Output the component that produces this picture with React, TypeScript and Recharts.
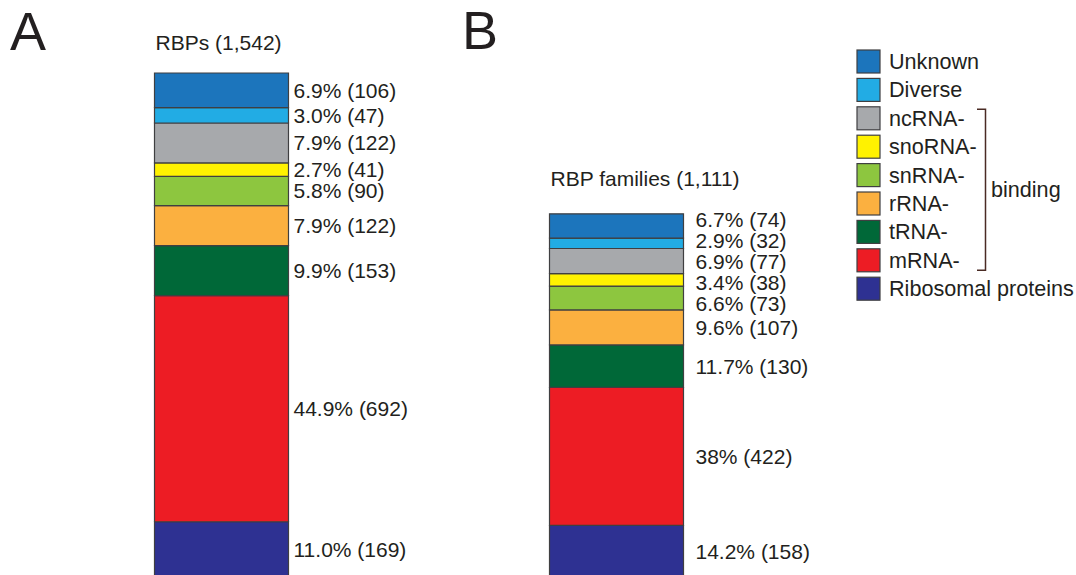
import { Bar, BarChart, LabelList, XAxis, YAxis } from "recharts";

const categories = ["RBPs (1,542)", "RBP families (1,111)"];
const panelLetters = ["A", "B"];

// legend order = top of the stack first
const seriesNames = [
  "Unknown",
  "Diverse",
  "ncRNA-",
  "snoRNA-",
  "snRNA-",
  "rRNA-",
  "tRNA-",
  "mRNA-",
  "Ribosomal proteins",
];
const seriesColors = [
  "#1c75bc",
  "#22ace4",
  "#a7a9ac",
  "#fff200",
  "#8dc63f",
  "#fbb040",
  "#006838",
  "#ed1c24",
  "#2e3192",
];
// ncRNA- .. mRNA- share the "binding" bracket
const bindingFirst = 2;
const bindingLast = 7;

const countsRBPs = [106, 47, 122, 41, 90, 122, 153, 692, 169];
const countsFamilies = [74, 32, 77, 38, 73, 107, 130, 422, 158];
const pctRBPs = ["6.9%", "3.0%", "7.9%", "2.7%", "5.8%", "7.9%", "9.9%", "44.9%", "11.0%"];
const pctFamilies = ["6.7%", "2.9%", "6.9%", "3.4%", "6.6%", "9.6%", "11.7%", "38%", "14.2%"];

const counts = [countsRBPs, countsFamilies];
const pcts = [pctRBPs, pctFamilies];

const rows = categories.map((name, c) => {
  const row: Record<string, string | number> = { name };
  counts[c].forEach((v, i) => {
    row[`s${i}`] = v;
  });
  return row;
});

// layout
const W = 1076;
const H = 575;
const CHART_H = 580;
const MARGIN = { top: 73, bottom: 3, left: 23.5, right: 262.5 };
const BAR_SIZE = 134;
const Y_MAX = 1542;
const LABEL_GAP = [5, 12];
const TITLE_GAP = [31, 35];
const MIN_LABEL_GAP = 21;
const FONT = '"Liberation Sans", Arial, Helvetica, sans-serif';
const INK = "#231f20";
const EDGE = "#3f3f41";

// push segment labels apart so they don't collide (offsets in px)
const PX = (CHART_H - MARGIN.top - MARGIN.bottom) / Y_MAX;
function labelOffsets(values: number[]) {
  const total = values.reduce((a, b) => a + b, 0);
  let above = 0;
  const natural = values.map((v) => {
    const c = (Y_MAX - total + above + v / 2) * PX;
    above += v;
    return c;
  });
  const pos = [...natural];
  for (let it = 0; it < 300; it++) {
    for (let i = 1; i < pos.length; i++) {
      const d = MIN_LABEL_GAP - (pos[i] - pos[i - 1]);
      if (d > 0) {
        pos[i - 1] -= d / 2;
        pos[i] += d / 2;
      }
    }
  }
  return pos.map((p, i) => p - natural[i]);
}
const offsets = counts.map(labelOffsets);

function box(p: any) {
  const vb = p.viewBox ?? p;
  return {
    x: Number(vb.x ?? p.x),
    y: Number(vb.y ?? p.y),
    w: Number(vb.width ?? p.width),
    h: Number(vb.height ?? p.height),
  };
}

function segmentLabel(p: any, s: number) {
  const c = Number(p.index);
  if (!counts[c]) return null;
  const { x, y, w, h } = box(p);
  return (
    <text
      x={x + w + LABEL_GAP[c]}
      y={y + h / 2 + offsets[c][s]}
      dominantBaseline="central"
      fill={INK}
      fontFamily={FONT}
      fontSize={21}
    >
      {`${pcts[c][s]} (${counts[c][s]})`}
    </text>
  );
}

function titleLabel(p: any) {
  const c = Number(p.index);
  if (!categories[c]) return null;
  const { x, y } = box(p);
  return (
    <text
      x={x + 1}
      y={y - TITLE_GAP[c]}
      dominantBaseline="central"
      fill={INK}
      fontFamily={FONT}
      fontSize={21}
    >
      {categories[c]}
    </text>
  );
}

function Overlay() {
  const rowTop = 61.5;
  const rowStep = 28.4;
  const yTop = rowTop + bindingFirst * rowStep - 9;
  const yBot = rowTop + bindingLast * rowStep + 10;
  return (
    <svg
      width={W}
      height={H}
      style={{ position: "absolute", left: 0, top: 0, pointerEvents: "none" }}
    >
      <text x={10} y={50} fontSize={54} fontFamily={FONT} fill={INK}>
        {panelLetters[0]}
      </text>
      <text x={462} y={49} fontSize={54} fontFamily={FONT} fill={INK}>
        {panelLetters[1]}
      </text>
      {seriesNames.map((name, i) => {
        const cy = rowTop + i * rowStep;
        return (
          <g key={name}>
            <rect
              x={857}
              y={cy - 11.5}
              width={23}
              height={23}
              fill={seriesColors[i]}
              stroke={EDGE}
              strokeWidth={1.2}
            />
            <text
              x={889}
              y={cy}
              dominantBaseline="central"
              fontSize={21.6}
              fontFamily={FONT}
              fill={INK}
            >
              {name}
            </text>
          </g>
        );
      })}
      <path
        d={`M977 ${yTop} H985.5 V${yBot} H977`}
        fill="none"
        stroke="#4a2b24"
        strokeWidth={1.5}
      />
      <text
        x={991}
        y={(yTop + yBot) / 2}
        dominantBaseline="central"
        fontSize={21.6}
        fontFamily={FONT}
        fill={INK}
      >
        binding
      </text>
    </svg>
  );
}

export default function App() {
  // bottom of the stack first
  const order = seriesNames.map((_, i) => i).reverse();
  return (
    <div
      style={{
        position: "absolute",
        left: 0,
        top: 0,
        width: W,
        height: H,
        overflow: "hidden",
        background: "#fff",
      }}
    >
      <BarChart data={rows} height={CHART_H} margin={MARGIN} width={W}>
        <XAxis dataKey="name" hide type="category" />
        <YAxis domain={[0, Y_MAX]} hide type="number" />
        {order.map((i) => (
          <Bar
            key={i}
            barSize={BAR_SIZE}
            dataKey={`s${i}`}
            fill={seriesColors[i]}
            isAnimationActive={false}
            stackId="stack"
            stroke={EDGE}
            strokeWidth={1.2}
          >
            <LabelList
              content={(p: any) => segmentLabel(p, i)}
              dataKey={`s${i}`}
            />
            {i === 0 && <LabelList content={titleLabel} dataKey="s0" />}
          </Bar>
        ))}
      </BarChart>
      <Overlay />
    </div>
  );
}
